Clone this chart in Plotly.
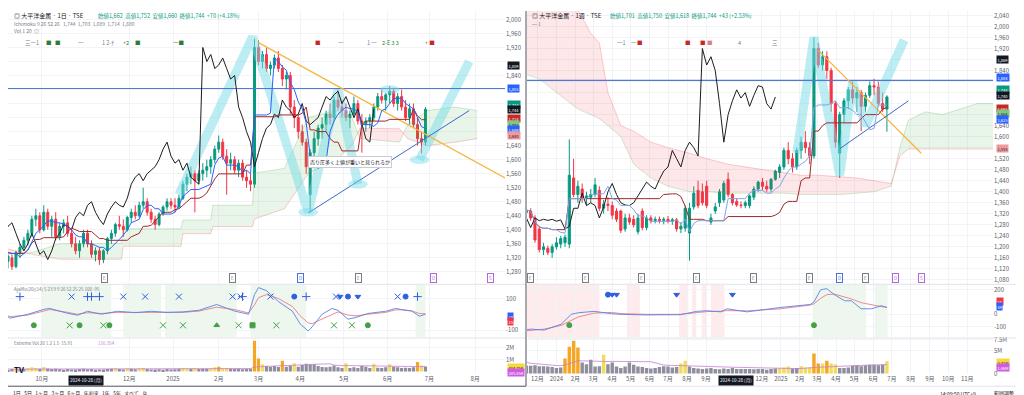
import pandas as pd
import numpy as np
import plotly.graph_objects as go

FONT = "Noto Sans CJK JP, Noto Sans, Liberation Sans, sans-serif"
UP = "#089981"; DN = "#F23645"
AXC = "#5d606b"; GRID = "#f2f3f6"
W, H = 1024, 395

# ================= LEFT panel : daily (one candle per two sessions) =================
L_open = [1360,1340,1310,1320,1295,1335,1350,1370,1390,1430,1440,
          1400,1450,1410,1430,1380,1410,1420,1390,1360,1340,1360,
          1390,1360,1330,1340,1315,1340,1375,1390,1415,1410,1400,
          1435,1450,1440,1470,1480,1450,1430,1415,1445,1465,1480,
          1470,1465,1490,1530,1550,1560,1540,1560,1570,1580,1600,
          1630,1650,1610,1590,1600,1570,1590,1550,1540,1530,
          1920,1880,1900,1860,1870,1890,1860,1830,1840,1750,1720,
          1680,1650,1500,1620,1660,1690,1700,1730,1720,1770,1750,
          1740,1720,1730,1760,1710,1700,1710,1720,1750,1780,1770,
          1785,1795,1760,1780,1750,1720,1745,1700,1660,1650]
L_high = [1380,1350,1330,1330,1340,1360,1380,1400,1440,1460,1450,
          1470,1460,1440,1450,1420,1430,1440,1400,1380,1370,1400,
          1400,1370,1350,1350,1345,1380,1400,1420,1440,1430,1440,
          1460,1470,1480,1520,1490,1460,1440,1450,1470,1490,1490,
          1490,1500,1540,1560,1580,1570,1570,1590,1600,1610,1640,
          1669,1660,1630,1620,1610,1600,1600,1570,1560,1945,
          1940,1910,1920,1880,1900,1910,1870,1850,1850,1770,1730,
          1700,1660,1630,1680,1700,1720,1740,1760,1780,1800,1770,
          1760,1740,1780,1770,1730,1720,1730,1760,1790,1800,1790,
          1810,1805,1790,1800,1770,1760,1760,1720,1680,1750]
L_low = [1330,1300,1290,1285,1290,1320,1340,1355,1380,1410,1390,
         1395,1400,1380,1370,1370,1390,1380,1350,1330,1320,1350,
         1350,1320,1310,1300,1305,1330,1360,1380,1400,1380,1395,
         1420,1430,1435,1460,1440,1420,1400,1410,1440,1455,1460,
         1450,1460,1485,1510,1530,1450,1530,1540,1550,1560,1590,
         1620,1600,1500,1570,1560,1550,1540,1520,1510,1520,
         1870,1860,1850,1840,1860,1850,1810,1800,1730,1690,1660,
         1640,1560,1450,1600,1640,1660,1680,1700,1710,1740,1720,
         1710,1690,1720,1700,1620,1680,1690,1710,1740,1760,1740,
         1760,1750,1740,1740,1710,1700,1690,1640,1618,1640]
L_close = [1340,1310,1325,1295,1335,1350,1370,1390,1430,1440,1400,
           1450,1410,1430,1380,1410,1420,1390,1360,1340,1360,1390,
           1360,1330,1340,1315,1340,1375,1390,1415,1410,1400,1435,
           1450,1440,1470,1480,1450,1430,1415,1445,1465,1480,1470,
           1465,1490,1530,1550,1560,1540,1560,1570,1580,1600,1630,
           1650,1610,1590,1600,1570,1590,1550,1540,1530,1920,
           1880,1900,1860,1870,1890,1860,1830,1840,1750,1720,1680,
           1650,1580,1620,1660,1690,1700,1730,1720,1770,1750,1740,
           1720,1730,1760,1710,1700,1710,1720,1750,1780,1770,1785,
           1795,1760,1780,1750,1720,1745,1700,1660,1650,1744]
L_vol = [0.22,0.18,0.15,0.20,0.25,0.18,0.20,0.28,0.35,0.30,0.22,
         0.38,0.25,0.20,0.22,0.18,0.15,0.20,0.17,0.16,0.20,0.22,
         0.18,0.20,0.15,0.17,0.16,0.20,0.22,0.25,0.20,0.17,0.24,
         0.22,0.18,0.25,0.30,0.20,0.17,0.16,0.18,0.15,0.20,0.17,
         0.18,0.22,0.30,0.25,0.22,0.28,0.20,0.22,0.20,0.25,0.35,
         0.40,0.28,0.30,0.22,0.20,0.22,0.18,0.20,0.22,2.60,
         1.10,0.60,0.45,0.40,0.45,0.38,0.90,0.40,0.50,0.70,0.40,
         0.55,0.65,0.60,0.60,0.45,0.38,0.35,0.40,0.50,0.35,0.30,
         0.70,0.30,0.35,0.30,0.45,0.40,0.30,0.65,0.32,0.30,0.35,
         0.60,0.40,0.35,0.30,0.32,0.30,0.35,0.80,0.50,0.42]

# Ichimoku cloud (dates, leading span A, leading span B)
L_cloud_x = ["2024-09-02","2024-09-24","2024-10-14","2024-11-26","2024-11-27","2025-01-07",
             "2025-01-08","2025-01-28","2025-01-29","2025-02-26","2025-02-27","2025-03-20",
             "2025-04-07","2025-04-25","2025-05-07","2025-05-13","2025-06-10","2025-06-16",
             "2025-06-30","2025-07-18","2025-08-04"]
L_spanA = [1330,1335,1360,1361,1403,1403,1428,1428,1470,1470,1562,1575,
           1720,1740,1720,1660,1650,1700,1740,1750,1740]
L_spanB = [1350,1330,1316,1316,1353,1353,1389,1389,1409,1409,1431,1460,
           1560,1600,1640,1690,1688,1660,1640,1650,1660]

# Oscillator (two lines)
L_osc_x = ["2024-09-02","2024-09-09","2024-09-20","2024-10-02","2024-10-07","2024-10-18",
           "2024-10-25","2024-11-01","2024-11-12","2024-11-22","2024-12-05","2024-12-17",
           "2024-12-27","2025-01-08","2025-01-20","2025-01-31","2025-02-13","2025-02-24",
           "2025-02-27","2025-03-03","2025-03-07","2025-03-17","2025-03-26","2025-04-01",
           "2025-04-07","2025-04-09","2025-04-16","2025-04-23","2025-04-28","2025-05-05",
           "2025-05-09","2025-05-19","2025-05-30","2025-06-06","2025-06-11","2025-06-18",
           "2025-06-24","2025-06-27"]
L_osc_blue = [19,-25,0,31,37,6,-6,19,0,19,10,19,12,15,25,62,20,0,125,169,150,81,20,
              -62,-106,-80,0,37,25,-31,-20,5,19,37,30,20,-12,0]
L_osc_red = [10,-15,-5,20,30,12,0,10,5,12,12,15,12,12,20,45,30,8,60,105,125,100,50,
             -10,-55,-60,-30,0,15,-5,-10,0,12,28,28,22,5,3]
L_bull_bands = [("2024-09-02","2024-09-04"),("2024-10-01","2024-11-19"),("2024-11-27","2024-12-24"),
                ("2024-12-26","2025-02-14"),("2025-02-25","2025-04-04"),("2025-06-20","2025-06-27")]
L_top_marks = [("2024-09-02","x"),("2024-10-22","x"),("2024-11-27","x"),("2024-12-12","x"),
               ("2025-01-06","x"),("2025-02-12","x"),("2025-02-18","x"),("2025-03-11","x"),
               ("2025-04-25","x"),("2025-06-09","x"),
               ("2024-09-16","+"),("2024-11-01","+"),("2024-11-05","+"),("2024-11-11","+"),
               ("2025-02-19","+"),("2025-04-04","+"),("2025-06-23","+"),
               ("2025-03-27","o"),("2025-05-05","o"),("2025-06-13","o"),
               ("2025-04-29","v"),("2025-05-12","v")]
L_bot_marks = [("2024-09-25","o"),("2024-10-28","o"),("2024-11-18","o"),("2025-05-19","o"),
               ("2024-10-21","x"),("2024-11-13","x"),("2024-12-25","x"),("2025-01-08","x"),
               ("2025-02-17","x"),("2025-03-14","x"),("2025-04-24","x"),("2025-05-07","x"),
               ("2025-01-31","^"),("2025-02-26","s")]

# Drawings (date, price)
L_hline = 1803
L_yellow = [("2025-03-03", 1934), ("2025-08-22", 1548)]
L_blue_tl = [("2025-04-07", 1448), ("2025-07-29", 1740)]
L_cyan = [[("2025-01-06", 1500), ("2025-02-26", 1950), ("2025-04-07", 1450),
           ("2025-04-28", 1800), ("2025-05-12", 1530)],
          [("2025-06-24", 1600), ("2025-07-29", 1880)]]
L_ellipses = [("2025-04-07", 1450), ("2025-05-12", 1530), ("2025-06-24", 1600), ("2025-06-03", 1800)]

# ================= RIGHT panel : weekly =================
R_open = [1345,1325,1330,1305,1265,1190,1195,1180,1200,1210,1215,1210,1450,1390,1410,1375,1380,1390,
          1405,1340,1355,1350,1330,1330,1265,1305,1300,1255,1330,1270,1305,1295,1300,1296,1300,1293,
          1298,1265,1268,1250,1345,1405,1400,1420,1290,1330,1360,1370,1445,1390,1365,1352,1350,1350,
          1380,1410,1435,1420,1410,1445,1470,1490,1550,1520,1490,1550,1580,1560,1530,1920,1860,1890,
          1840,1720,1540,1680,1730,1770,1740,1760,1710,1750,1785,1780,1720,1700]
R_high = [1365,1345,1340,1315,1275,1215,1205,1210,1235,1240,1245,1590,1520,1440,1430,1400,1410,1450,
          1420,1370,1380,1365,1340,1335,1320,1320,1315,1320,1340,1315,1315,1310,1310,1308,1312,1305,
          1305,1290,1350,1360,1420,1440,1430,1440,1320,1360,1410,1440,1470,1395,1375,1365,1368,1390,
          1420,1440,1450,1440,1450,1480,1500,1560,1580,1540,1560,1600,1620,1580,1960,1940,1910,1910,
          1850,1730,1690,1740,1780,1800,1780,1770,1760,1800,1810,1800,1760,1750]
R_low = [1310,1300,1295,1215,1180,1170,1170,1160,1190,1195,1200,1195,1380,1360,1360,1350,1360,1380,
         1330,1320,1330,1300,1290,1250,1255,1280,1270,1245,1260,1260,1285,1285,1285,1282,1285,1280,
         1255,1250,1255,1150,1335,1340,1350,1340,1280,1320,1345,1360,1380,1350,1345,1340,1340,1340,
         1370,1400,1405,1400,1400,1440,1450,1480,1500,1470,1480,1520,1540,1500,1520,1850,1840,1810,
         1690,1560,1450,1650,1700,1720,1690,1620,1690,1740,1750,1710,1690,1618]
R_close = [1325,1330,1305,1225,1190,1200,1180,1200,1215,1230,1235,1460,1390,1420,1375,1385,1390,1425,
           1340,1355,1350,1315,1300,1260,1305,1290,1280,1305,1270,1305,1295,1300,1296,1300,1293,1298,
           1265,1275,1340,1340,1395,1350,1360,1350,1305,1345,1400,1430,1390,1360,1352,1350,1360,1385,
           1410,1435,1420,1410,1445,1475,1490,1550,1520,1490,1550,1580,1560,1530,1920,1860,1890,1840,
           1720,1580,1680,1730,1770,1740,1760,1710,1750,1785,1780,1720,1700,1744]
R_vol = [3.3,1.7,1.7,1.8,1.6,1.6,1.5,1.4,1.2,1.3,3.3,5.9,7.2,5.7,2.4,2.0,3.0,1.5,1.6,4.1,
         2.0,2.4,1.5,1.2,1.5,2.4,1.9,1.5,1.4,1.2,1.1,1.2,1.4,1.6,1.5,1.3,1.4,2.2,2.8,1.5,
         1.2,1.1,1.0,1.1,1.2,1.0,0.9,1.1,1.0,1.2,1.0,1.0,1.0,1.0,0.9,1.0,1.0,0.8,1.0,1.1,
         1.2,1.3,1.5,1.1,1.2,1.6,1.3,1.3,4.4,2.2,2.2,2.8,2.2,2.0,1.2,1.2,1.3,1.7,1.8,1.6,
         1.8,1.9,1.9,1.8,1.9,2.7]

R_cloud_x = ["2023-11-06","2023-12-04","2024-01-01","2024-02-05","2024-02-26","2024-03-11",
             "2024-03-25","2024-04-15","2024-05-06","2024-06-03","2024-07-01","2024-08-05",
             "2024-09-02","2024-10-07","2024-11-04","2024-12-02","2025-01-06","2025-02-03",
             "2025-03-03","2025-04-07","2025-05-05","2025-06-02","2025-06-30","2025-07-14",
             "2025-07-28","2025-08-25","2025-09-22","2025-10-20","2025-11-17","2025-12-22"]
R_spanA = [1830,1810,1760,1700,1680,1665,1640,1600,1500,1450,1420,1400,1400,1395,1395,1395,
           1395,1390,1390,1390,1395,1400,1420,1560,1660,1690,1680,1700,1720,1720]
R_spanB = [2200,2200,2150,2060,1975,1940,1760,1640,1620,1580,1560,1540,1520,1500,1490,1480,
           1470,1460,1460,1455,1450,1440,1430,1530,1555,1555,1555,1555,1555,1555]

R_osc_x = ["2023-11-01","2023-11-20","2023-12-12","2024-01-09","2024-01-25","2024-02-06",
           "2024-03-03","2024-03-31","2024-04-17","2024-05-26","2024-07-21","2024-08-17",
           "2024-09-02","2024-09-25","2024-10-05","2024-11-07","2025-01-01","2025-02-18",
           "2025-02-24","2025-03-07","2025-03-17","2025-03-29","2025-04-15","2025-04-26",
           "2025-05-12","2025-05-29","2025-06-14","2025-06-23"]
R_osc_blue = [-136,-120,-128,-80,0,13,24,5,0,-5,-3,24,29,20,45,20,56,80,100,200,208,160,
              110,110,45,45,70,55]
R_osc_red = [-140,-130,-120,-90,-50,-20,10,15,5,0,0,15,22,25,30,28,45,75,85,130,160,165,
             140,125,95,75,62,58]
R_bear_bands = [("2023-10-30","2024-03-11"),("2024-04-25","2024-05-16"),("2024-07-19","2024-08-03"),
                ("2024-08-09","2024-08-16"),("2024-08-25","2024-09-01"),("2024-09-09","2024-10-01")]
R_bull_bands = [("2025-02-22","2025-05-20"),("2025-06-03","2025-06-24")]
R_top_marks = [("2024-03-25","o"),("2024-04-01","v"),("2024-04-08","v"),("2024-07-15","v"),
               ("2024-10-14","v")]
R_bot_marks = [("2024-01-22","o"),("2025-02-24","o")]

R_hline = 1804
R_yellow = [("2025-03-03", 1913), ("2025-08-18", 1540)]
R_blue_tl = [("2025-04-07", 1556), ("2025-07-28", 1730)]
R_cyan = [[("2025-01-27", 1540), ("2025-02-24", 1960), ("2025-04-07", 1460),
           ("2025-04-28", 1800), ("2025-05-19", 1640), ("2025-07-21", 1950)]]

# ================= build =================
L_dates = pd.bdate_range("2024-09-02", periods=len(L_close), freq="2B")
R_dates = pd.date_range("2023-11-06", periods=len(R_close), freq="W-MON")

def px2fx(px):
    return px / W

def px2fy(py):
    return 1 - py / H

MAIN = [px2fy(277), 1.0]
OSC = [px2fy(331), px2fy(278)]
VOL = [px2fy(369), px2fy(332)]
LX = [0.0, px2fx(497)]
RX = [px2fx(519), px2fx(985)]

fig = go.Figure()

def ichimoku(dates, h, l, c, tn, kn, lag, xa, ya, tcol):
    hs, ls, cs = pd.Series(h), pd.Series(l), pd.Series(c)
    tenkan = (hs.rolling(tn, min_periods=1).max() + ls.rolling(tn, min_periods=1).min()) / 2
    kijun = (hs.rolling(kn, min_periods=1).max() + ls.rolling(kn, min_periods=1).min()) / 2
    fig.add_trace(go.Scatter(x=dates[:-lag], y=cs.values[lag:], mode="lines",
                             line=dict(color="#1c1c1c", width=1), xaxis=xa, yaxis=ya, hoverinfo="skip"))
    fig.add_trace(go.Scatter(x=dates, y=kijun, mode="lines", line=dict(color="#9c2a2a", width=1),
                             xaxis=xa, yaxis=ya, hoverinfo="skip"))
    fig.add_trace(go.Scatter(x=dates, y=tenkan, mode="lines", line=dict(color=tcol, width=1),
                             xaxis=xa, yaxis=ya, hoverinfo="skip"))

def cloud(xs, a, b, xa, ya):
    xs = list(pd.to_datetime(xs))
    n = len(xs)
    s = 0
    for i in range(1, n + 1):
        if i == n or ((a[i] >= b[i]) != (a[s] >= b[s])):
            e = min(i, n - 1)
            idx = list(range(s, e + 1))
            bull = a[s] >= b[s]
            col = "rgba(76,175,80,0.13)" if bull else "rgba(242,54,69,0.12)"
            fig.add_trace(go.Scatter(x=[xs[k] for k in idx] + [xs[k] for k in idx[::-1]],
                                     y=[a[k] for k in idx] + [b[k] for k in idx[::-1]],
                                     fill="toself", fillcolor=col, mode="lines",
                                     line=dict(width=0), xaxis=xa, yaxis=ya, hoverinfo="skip"))
            s = i
    fig.add_trace(go.Scatter(x=xs, y=a, mode="lines", line=dict(color="rgba(76,175,80,0.35)", width=0.7),
                             xaxis=xa, yaxis=ya, hoverinfo="skip"))
    fig.add_trace(go.Scatter(x=xs, y=b, mode="lines", line=dict(color="rgba(242,54,69,0.35)", width=0.7),
                             xaxis=xa, yaxis=ya, hoverinfo="skip"))

def drawing_lines(cyan, yellow, blue_tl, hline, xr, xa, ya):
    for path in cyan:
        fig.add_trace(go.Scatter(x=[p[0] for p in path], y=[p[1] for p in path], mode="lines",
                                 line=dict(color="rgba(120,220,232,0.5)", width=9),
                                 xaxis=xa, yaxis=ya, hoverinfo="skip"))
    fig.add_trace(go.Scatter(x=list(xr), y=[hline, hline], mode="lines",
                             line=dict(color="#4f79d8", width=1.2), xaxis=xa, yaxis=ya, hoverinfo="skip"))
    fig.add_trace(go.Scatter(x=[p[0] for p in yellow], y=[p[1] for p in yellow], mode="lines",
                             line=dict(color="#f3b63f", width=1.3), xaxis=xa, yaxis=ya, hoverinfo="skip"))
    fig.add_trace(go.Scatter(x=[p[0] for p in blue_tl], y=[p[1] for p in blue_tl], mode="lines",
                             line=dict(color="#4169c9", width=1), xaxis=xa, yaxis=ya, hoverinfo="skip"))

def candles(dates, o, h, l, c, xa, ya):
    fig.add_trace(go.Candlestick(x=dates, open=o, high=h, low=l, close=c, xaxis=xa, yaxis=ya,
                                 increasing=dict(line=dict(color=UP, width=1), fillcolor=UP),
                                 decreasing=dict(line=dict(color=DN, width=1), fillcolor=DN),
                                 whiskerwidth=0, hoverinfo="skip"))

SYM = {"x": "x-thin-open", "+": "cross-thin-open", "o": "circle", "v": "triangle-down",
       "^": "triangle-up", "s": "square"}

def osc(xs, blue, red, top, bot, topv, botv, xa, ya):
    fig.add_trace(go.Scatter(x=xs, y=red, mode="lines", line=dict(color="#e57f86", width=0.9),
                             xaxis=xa, yaxis=ya, hoverinfo="skip"))
    fig.add_trace(go.Scatter(x=xs, y=blue, mode="lines", line=dict(color="#5b80e6", width=0.9),
                             xaxis=xa, yaxis=ya, hoverinfo="skip"))
    for marks, val, col in ((top, topv, "#2f5fe0"), (bot, botv, "#43a047")):
        for k in SYM:
            pts = [m[0] for m in marks if m[1] == k]
            if not pts:
                continue
            fig.add_trace(go.Scatter(x=pts, y=[val] * len(pts), mode="markers",
                                     marker=dict(symbol=SYM[k], color=col, size=6 if k in "x+" else 5,
                                                 line=dict(color=col, width=1)),
                                     xaxis=xa, yaxis=ya, hoverinfo="skip"))

def volume(dates, vol, xa, ya):
    v = pd.Series(vol)
    ma = v.rolling(20, min_periods=1).mean()
    cols = []
    for vi, mi in zip(v, ma):
        r = vi / mi
        cols.append("#f5a623" if r > 1.6 else ("#f2dc5d" if r > 1.15 else "#8e8e9c"))
    fig.add_trace(go.Bar(x=dates, y=vol, marker=dict(color=cols, line=dict(width=0)),
                         xaxis=xa, yaxis=ya, hoverinfo="skip"))
    fig.add_trace(go.Scatter(x=dates, y=ma, mode="lines", line=dict(color="#c77dd6", width=0.8),
                             xaxis=xa, yaxis=ya, hoverinfo="skip"))

L_range = ["2024-09-06", "2025-08-22"]
R_range = ["2023-11-14", "2025-12-13"]

# ---- left
cloud(L_cloud_x, L_spanA, L_spanB, "x", "y")
drawing_lines(L_cyan, L_yellow, L_blue_tl, L_hline, L_range, "x", "y")
ichimoku(L_dates, L_high, L_low, L_close, 5, 13, 13, "x", "y", "#2962ff")
candles(L_dates, L_open, L_high, L_low, L_close, "x", "y")
osc(L_osc_x, L_osc_blue, L_osc_red, L_top_marks, L_bot_marks, 112, -70, "x2", "y2")
volume(L_dates, L_vol, "x3", "y3")

# ---- right
cloud(R_cloud_x, R_spanA, R_spanB, "x4", "y4")
drawing_lines(R_cyan, R_yellow, R_blue_tl, R_hline, R_range, "x4", "y4")
ichimoku(R_dates, R_high, R_low, R_close, 9, 26, 26, "x4", "y4", "#7ea6ea")
candles(R_dates, R_open, R_high, R_low, R_close, "x4", "y4")
osc(R_osc_x, R_osc_blue, R_osc_red, R_top_marks, R_bot_marks, 160, -88, "x5", "y5")
volume(R_dates, R_vol, "x6", "y6")

shapes = []
for a, b in L_bull_bands:
    shapes.append(dict(type="rect", xref="x2", yref="y2 domain", x0=a, x1=b, y0=0, y1=1,
                       fillcolor="rgba(76,175,80,0.10)", line=dict(width=0), layer="below"))
for a, b in R_bear_bands:
    shapes.append(dict(type="rect", xref="x5", yref="y5 domain", x0=a, x1=b, y0=0, y1=1,
                       fillcolor="rgba(242,54,69,0.10)", line=dict(width=0), layer="below"))
for a, b in R_bull_bands:
    shapes.append(dict(type="rect", xref="x5", yref="y5 domain", x0=a, x1=b, y0=0, y1=1,
                       fillcolor="rgba(76,175,80,0.10)", line=dict(width=0), layer="below"))
for d, p in L_ellipses:
    shapes.append(dict(type="circle", xref="x", yref="y", x0=pd.Timestamp(d) - pd.Timedelta(days=7),
                       x1=pd.Timestamp(d) + pd.Timedelta(days=7), y0=p - 12, y1=p + 12,
                       fillcolor="rgba(120,220,232,0.45)", line=dict(width=0)))
# pane separators & frames
for yy in (277.5, 332):
    shapes.append(dict(type="line", xref="paper", yref="paper", x0=0, x1=px2fx(518),
                       y0=px2fy(yy), y1=px2fy(yy), line=dict(color="#e0e3eb", width=1)))
    shapes.append(dict(type="line", xref="paper", yref="paper", x0=px2fx(520), x1=1,
                       y0=px2fy(yy), y1=px2fy(yy), line=dict(color="#e0e3eb", width=1)))
shapes.append(dict(type="line", xref="paper", yref="paper", x0=px2fx(518), x1=px2fx(518),
                   y0=px2fy(381), y1=1, line=dict(color="#50535e", width=1)))
shapes.append(dict(type="line", xref="paper", yref="paper", x0=0, x1=px2fx(518),
                   y0=px2fy(381), y1=px2fy(381), line=dict(color="#50535e", width=1)))
shapes.append(dict(type="line", xref="paper", yref="paper", x0=px2fx(519), x1=1,
                   y0=px2fy(381), y1=px2fy(381), line=dict(color="#e0e3eb", width=1)))

ann = []
def txt(x, y, s, size=6, color="#131722", bg=None, xanchor="left", bold=False, border=None, pad=1):
    a = dict(x=px2fx(x), y=px2fy(y), xref="paper", yref="paper", text=("<b>%s</b>" % s) if bold else s,
             showarrow=False, xanchor=xanchor, yanchor="middle",
             font=dict(family=FONT, size=size, color=color))
    if bg:
        a["bgcolor"] = bg
        a["borderpad"] = pad
    if border:
        a["bordercolor"] = border
        a["borderwidth"] = 1
    ann.append(a)

# headers
txt(4, 5, "◎ 大平洋金属 · 1日 · TSE", 6)
txt(88, 5, "始値1,662  高値1,752  安値1,660  終値1,744  +70 (+4.18%)", 5.5, "#089981")
txt(4, 13, "Ichimoku 9 26 52 26   1,744  1,703  1,689  1,714  1,680", 5, "#787b86")
txt(4, 20, "Vol 1 20  ◎", 5, "#787b86")
txt(522, 5, "◎ 大平洋金属 · 1週 · TSE", 6)
txt(600, 5, "始値1,701  高値1,750  安値1,618  終値1,744  +43 (+2.53%)", 5.5, "#089981")
txt(522, 13, "一 1", 5, "#787b86")
txt(4, 283, "AjaMu(20)(14) 5 23 9 9 26 52 25 25 100 -95", 4.5, "#787b86")
txt(4, 337, "Extreme Vol 20 1.2 1.5  15.91", 4.5, "#787b86")
txt(88, 337, "116.354", 4.5, "#c77dd6")
txt(4, 364, "TV", 8, "#131722", bold=True)

# signal row
for x, s, c in [(15, "三一1", "#787b86"), (36, "■", "#2e7d32"), (45, "■", "#2e7d32"), (68, "一", "#787b86"),
                (92, "1 2-ﾁ", "#787b86"), (113, "+2", "#2e7d32"), (125, "■", "#2e7d32"), (163, "一■", "#2e7d32"),
                (305, "■", "#c62828"), (328, "一", "#787b86"), (357, "1 一", "#787b86"), (372, "2-E 3 3", "#2e7d32"),
                (415, "+ ■", "#c62828"),
                (607, "一1", "#787b86"), (621, "一", "#787b86"), (627, "■", "#c62828"), (675, "■", "#c62828"),
                (690, "■", "#c62828"), (697, "■", "#d98080"), (728, "4", "#787b86"), (762, "三", "#787b86")]:
    txt(x, 32, s, 5.5, c)

# events row
for x, s, c in [(96, "E", "#787b86"), (224, "E", "#787b86"), (350, "E", "#787b86"), (292, "D", "#4a6fe0"),
                (425, "D", "#b06ad6"), (482, "S", "#b06ad6"),
                (522, "E", "#787b86"), (577, "E", "#787b86"), (633, "E", "#787b86"), (688, "E", "#787b86"),
                (745, "E", "#787b86"), (801, "E", "#787b86"), (857, "E", "#787b86"), (831, "D", "#4a6fe0"),
                (887, "D", "#b06ad6"), (913, "S", "#b06ad6")]:
    txt(x, 271, s, 4.5, c, xanchor="center", border=c, bg="white")

txt(300, 153, "売り圧多く上値が重いと見られるか", 5, "#131722", bg="white", border="#c9ccd6")

# date crosshair boxes
txt(78, 375, "2024-10-28 (月)", 4.5, "white", bg="#131722", xanchor="center")
txt(728, 375, "2024-10-28 (月)", 4.5, "white", bg="#131722", xanchor="center")

# price labels on scales
LIGHT = ("#f5d742", "#81c784", "#ef9a9a")
for y, s, bg in [(55, "1,809", "#131722"), (79, "1,803", "#2962ff"), (95, "1,744", "#089981"),
                 (100.5, "1,744", "#131722"), (109.5, "1,714", "#c62828"), (115, "1,703", "#81c784"),
                 (120.5, "1,689", "#2962ff"), (126, "1,680", "#ef9a9a"),
                 (310, "19", "#2962ff"), (315.5, "15", "#f23645"),
                 (362, "404.75K", "#f5d742"), (367.5, "305.85K", "#d05ce3")]:
    txt(499, y, s, 4, "#131722" if bg in LIGHT else "white", bg=bg, pad=0.5)
for y, s, bg in [(49, "1,869", "#131722"), (68, "1,804", "#2962ff"), (80, "1,744", "#089981"),
                 (85.5, "1,740", "#131722"), (99, "1,683", "#c62828"), (104.5, "1,664", "#81c784"),
                 (110, "1,625", "#2962ff"), (140, "1,555", "#ef9a9a"),
                 (295, "58", "#f23645"), (300.5, "49", "#2962ff"),
                 (357, "2.71M", "#f5d742"), (362.5, "1.46M", "#d05ce3")]:
    txt(988, y, s, 4, "#131722" if bg in LIGHT else "white", bg=bg, pad=0.5)

# bottom toolbars
txt(3, 388, "1日   5日   1ヶ月   3ヶ月   6ヶ月   年初来   1年   5年   すべて    ⧉", 5, "#131722")
txt(950, 388, "14:09:50 UTC+9", 5, "#131722", xanchor="center")
txt(996, 388, "範囲調整", 5, "#131722", xanchor="center")
txt(1013, 388, "⤢", 5, "#131722", xanchor="center")

lay = dict(width=W, height=H, margin=dict(l=0, r=0, t=0, b=0), paper_bgcolor="white",
           plot_bgcolor="white", showlegend=False, shapes=shapes, annotations=ann,
           font=dict(family=FONT, size=6, color=AXC), bargap=0.2)

tickf = dict(family=FONT, size=6, color=AXC)
L_tv = ["2024-10-01", "2024-12-02", "2025-01-01", "2025-02-03", "2025-03-03", "2025-04-01",
        "2025-05-01", "2025-06-02", "2025-07-01", "2025-08-01"]
L_tt = ["10月", "12月", "2025", "2月", "3月", "4月", "5月", "6月", "7月", "8月"]
R_tv = ["2023-12-01", "2024-01-01", "2024-02-01", "2024-03-01", "2024-04-01", "2024-05-01",
        "2024-06-01", "2024-07-01", "2024-08-01", "2024-09-01", "2024-12-01", "2025-01-01",
        "2025-02-01", "2025-03-01", "2025-04-01", "2025-05-01", "2025-06-01", "2025-07-01",
        "2025-08-01", "2025-09-01", "2025-10-01", "2025-11-01"]
R_tt = ["12月", "2024", "2月", "3月", "4月", "5月", "6月", "7月", "8月", "9月", "12月", "2025",
        "2月", "3月", "4月", "5月", "6月", "7月", "8月", "9月", "10月", "11月"]

rb = [dict(bounds=["sat", "mon"])]

def xax(dom, anchor, rng, tv, tt, show, match=None, breaks=None):
    d = dict(domain=dom, anchor=anchor, type="date", range=rng, showgrid=True, gridcolor=GRID,
             tickvals=tv, ticktext=tt, showticklabels=show, tickfont=tickf, ticks="",
             zeroline=False, showline=False, rangeslider=dict(visible=False), fixedrange=True)
    if match:
        d["matches"] = match
    if breaks:
        d["rangebreaks"] = breaks
    return d

def yax(dom, anchor, rng, tv, tt):
    return dict(domain=dom, anchor=anchor, side="right", range=rng, tickvals=tv, ticktext=tt,
                showgrid=True, gridcolor=GRID, zeroline=False, tickfont=tickf, ticks="",
                showline=False, fixedrange=True)

lay["xaxis"] = xax(LX, "y", L_range, L_tv, L_tt, False, breaks=rb)
lay["xaxis2"] = xax(LX, "y2", L_range, L_tv, L_tt, False, "x", rb)
lay["xaxis3"] = xax(LX, "y3", L_range, L_tv, L_tt, True, "x", rb)
lay["xaxis4"] = xax(RX, "y4", R_range, R_tv, R_tt, False)
lay["xaxis5"] = xax(RX, "y5", R_range, R_tv, R_tt, False, "x4")
lay["xaxis6"] = xax(RX, "y6", R_range, R_tv, R_tt, True, "x4")

# price ticks every 40; labels hidden where a price box sits on the scale
L_hide = {1880, 1800, 1760, 1720, 1680}
R_hide = {1880, 1800, 1760, 1720, 1680, 1560}
L_pt = list(range(1280, 2001, 40))
R_pt = list(range(1080, 2041, 40))
lay["yaxis"] = yax(MAIN, "x", [1246, 2024], L_pt, ["" if v in L_hide else f"{v:,}" for v in L_pt])
lay["yaxis2"] = yax(OSC, "x2", [-144, 187], [100, -100], ["100", "-100"])
lay["yaxis3"] = yax(VOL, "x3", [-0.25, 2.83], [1, 2], ["1M", "2M"])
lay["yaxis4"] = yax(MAIN, "x4", [1066, 2056], R_pt, ["" if v in R_hide else f"{v:,}" for v in R_pt])
lay["yaxis5"] = yax(OSC, "x5", [-184, 240], [200, 0, -100], ["200", "0", "-100"])
lay["yaxis6"] = yax(VOL, "x6", [-0.22, 7.83], [0, 5, 7.5], ["0", "5M", "7.5M"])

fig.update_layout(**lay)
fig.write_html("out.html")
